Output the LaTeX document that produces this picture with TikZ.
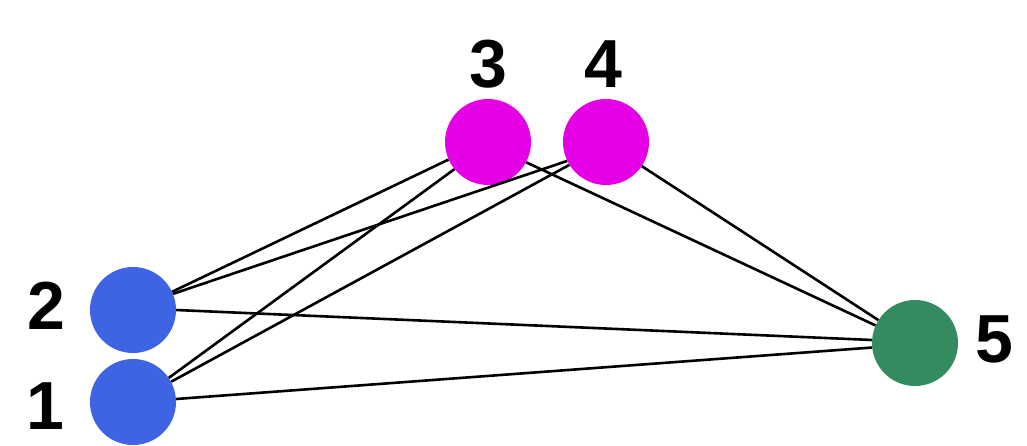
\documentclass[tikz,border=0pt]{standalone}
\usepackage{fontspec}
\setmainfont{Liberation Sans}
\definecolor{nblue}{RGB}{62,100,228}
\definecolor{nmag}{RGB}{230,0,230}
\definecolor{ngreen}{RGB}{52,139,96}
\begin{document}
\begin{tikzpicture}[x=1pt,y=-1pt,
  vtx/.style={circle,minimum size=86pt,inner sep=0pt},
  lbl/.style={font=\fontsize{68}{68}\selectfont\bfseries,inner sep=0pt},
  edge/.style={line width=2.6pt,black}]
\useasboundingbox (0,0) rectangle (1027,445);
\node[vtx,fill=nblue] (n1) at (133,402) {};
\node[vtx,fill=nblue] (n2) at (133,310) {};
\node[vtx,fill=nmag] (n3) at (488,142) {};
\node[vtx,fill=nmag] (n4) at (606,142) {};
\node[vtx,fill=ngreen] (n5) at (915,343) {};
\node[lbl] (l1) at (45,406) {1};
\node[lbl] (l2) at (46,306) {2};
\node[lbl] (l3) at (488,64) {3};
\node[lbl] (l4) at (603,64) {4};
\node[lbl] (l5) at (994,339) {5};
\draw[edge] (n2.25) -- (n3.204);
\draw[edge] (n2.22) -- (n4.206);
\draw[edge] (n1.34) -- (n3.219);
\draw[edge] (n1.28) -- (n4.212);
\draw[edge] (n2.0) -- (n5.176);
\draw[edge] (n1.4) -- (n5.186);
\draw[edge] (n3.332) -- (n5.156);
\draw[edge] (n4.326) -- (n5.148);
\end{tikzpicture}
\end{document}
